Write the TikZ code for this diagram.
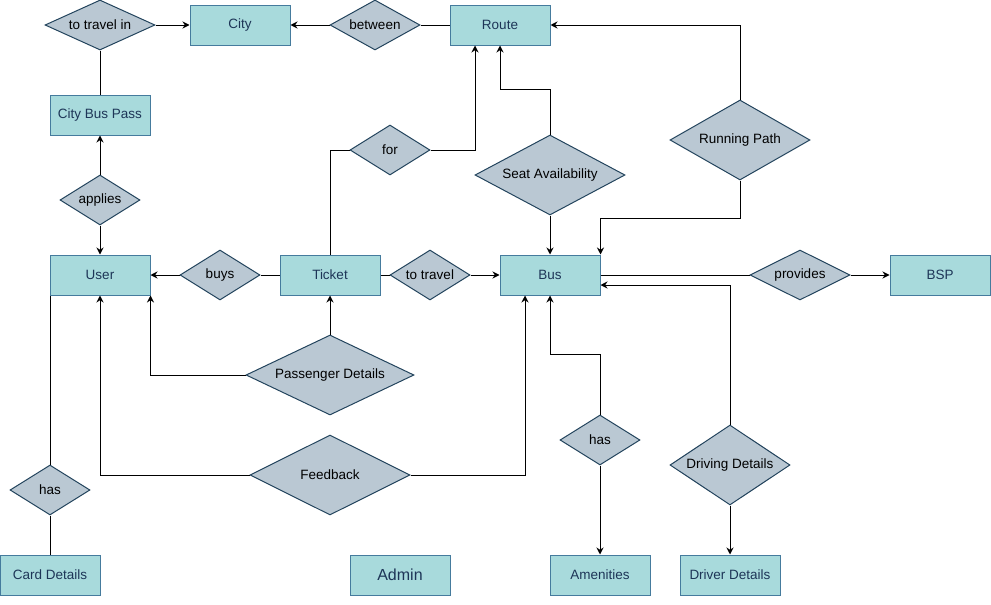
\documentclass[tikz,border=0pt]{standalone}
\usepackage{fontspec}
\setmainfont{Liberation Sans}
\usetikzlibrary{shapes.geometric,arrows.meta}
\definecolor{entfill}{HTML}{A8DADC}
\definecolor{entline}{HTML}{457B9D}
\definecolor{enttext}{HTML}{1D3557}
\definecolor{relfill}{HTML}{BAC8D3}
\definecolor{relline}{HTML}{23445D}
\tikzset{
  ent/.style={draw=entline, fill=entfill, text=enttext, line width=1pt,
    minimum width=100, minimum height=40, inner sep=0pt,
    font=\fontsize{13.5}{15}\selectfont},
  rel/.style={diamond, draw=relline, fill=relfill, text=black, line width=1pt,
    inner sep=0pt, font=\fontsize{13.5}{15}\selectfont},
  conn/.style={line width=1pt, draw=black},
  arr/.style={conn, -{Stealth[length=7pt,width=7pt]}}
}
\newcommand{\zt}[1]{\makebox[0pt]{#1}}
\begin{document}
\begin{tikzpicture}[x=1pt,y=-1pt]
\useasboundingbox (0,0) rectangle (991,605);
% entities
\node[ent] (city) at (240,25) {City};
\node[ent] (route) at (500,25) {Route};
\node[ent] (cbp) at (100,115) {City Bus Pass};
\node[ent] (user) at (100,275) {User};
\node[ent] (ticket) at (330,275) {Ticket};
\node[ent] (bus) at (550,275) {Bus};
\node[ent] (bsp) at (940,275) {BSP};
\node[ent] (card) at (50,575) {Card Details};
\node[ent, font=\fontsize{16}{18}\selectfont] (admin) at (400,575) {Admin};
\node[ent] (amen) at (600,575) {Amenities};
\node[ent] (drdet) at (730,575) {Driver Details};
% relations
\node[rel, minimum width=110, minimum height=50] (tti) at (100,25) {\zt{to travel in}};
\node[rel, minimum width=90, minimum height=50] (betw) at (375,25) {\zt{between}};
\node[rel, minimum width=80, minimum height=50] (appl) at (100,200) {\zt{applies}};
\node[rel, minimum width=80, minimum height=50] (buys) at (220,275) {\zt{buys}};
\node[rel, minimum width=80, minimum height=50] (totr) at (430,275) {\zt{to travel}};
\node[rel, minimum width=80, minimum height=50] (for) at (390,150) {\zt{for}};
\node[rel, minimum width=150, minimum height=80] (seat) at (550,175) {\zt{Seat Availability}};
\node[rel, minimum width=140, minimum height=80] (run) at (740,140) {\zt{Running Path}};
\node[rel, minimum width=100, minimum height=50] (prov) at (800,275) {\zt{provides}};
\node[rel, minimum width=168, minimum height=80] (pd) at (330,375) {\zt{Passenger Details}};
\node[rel, minimum width=160, minimum height=80] (fb) at (330,475) {\zt{Feedback}};
\node[rel, minimum width=80, minimum height=50] (hasL) at (50,490) {\zt{has}};
\node[rel, minimum width=80, minimum height=50] (hasR) at (600,440) {\zt{has}};
\node[rel, minimum width=120, minimum height=80] (drv) at (730,465) {\zt{Driving Details}};
% connectors
\draw[arr] (tti.east) -- (city.west);
\draw[conn] (tti.south) -- (cbp.north);
\draw[arr] (betw.west) -- (city.east);
\draw[conn] (route.west) -- (betw.east);
\draw[arr] (appl.north) -- (cbp.south);
\draw[arr] (appl.south) -- (user.north);
\draw[arr] (buys.west) -- (user.east);
\draw[conn] (ticket.west) -- (buys.east);
\draw[conn] (ticket.east) -- (totr.west);
\draw[arr] (totr.east) -- (bus.west);
\draw[conn] (ticket.north) |- (for.west);
\draw[arr] (for.east) -| ([xshift=-25pt]route.south);
\draw[arr] (seat.north) -- ++(0,-45) -| (route.south);
\draw[arr] (seat.south) -- (bus.north);
\draw[arr] (run.north) |- (route.east);
\draw[arr] (run.south) -- ++(0,38) -| (bus.north east);
\draw[conn] (bus.east) -- (prov.west);
\draw[arr] (prov.east) -- (bsp.west);
\draw[arr] (drv.north) |- ([yshift=-10pt]bus.east);
\draw[arr] (drv.south) -- (drdet.north);
\draw[arr] (hasR.north) -- ++(0,-60) -| (bus.south);
\draw[arr] (hasR.south) -- (amen.north);
\draw[arr] (fb.east) -| ([xshift=-25pt]bus.south);
\draw[arr] (fb.west) -| (user.south);
\draw[arr] (pd.west) -| (user.south east);
\draw[arr] (pd.north) -- (ticket.south);
\draw[conn] (hasL.north) -- (hasL.north |- user.south);
\draw[conn] (hasL.south) -- (card.north);
\end{tikzpicture}
\end{document}
